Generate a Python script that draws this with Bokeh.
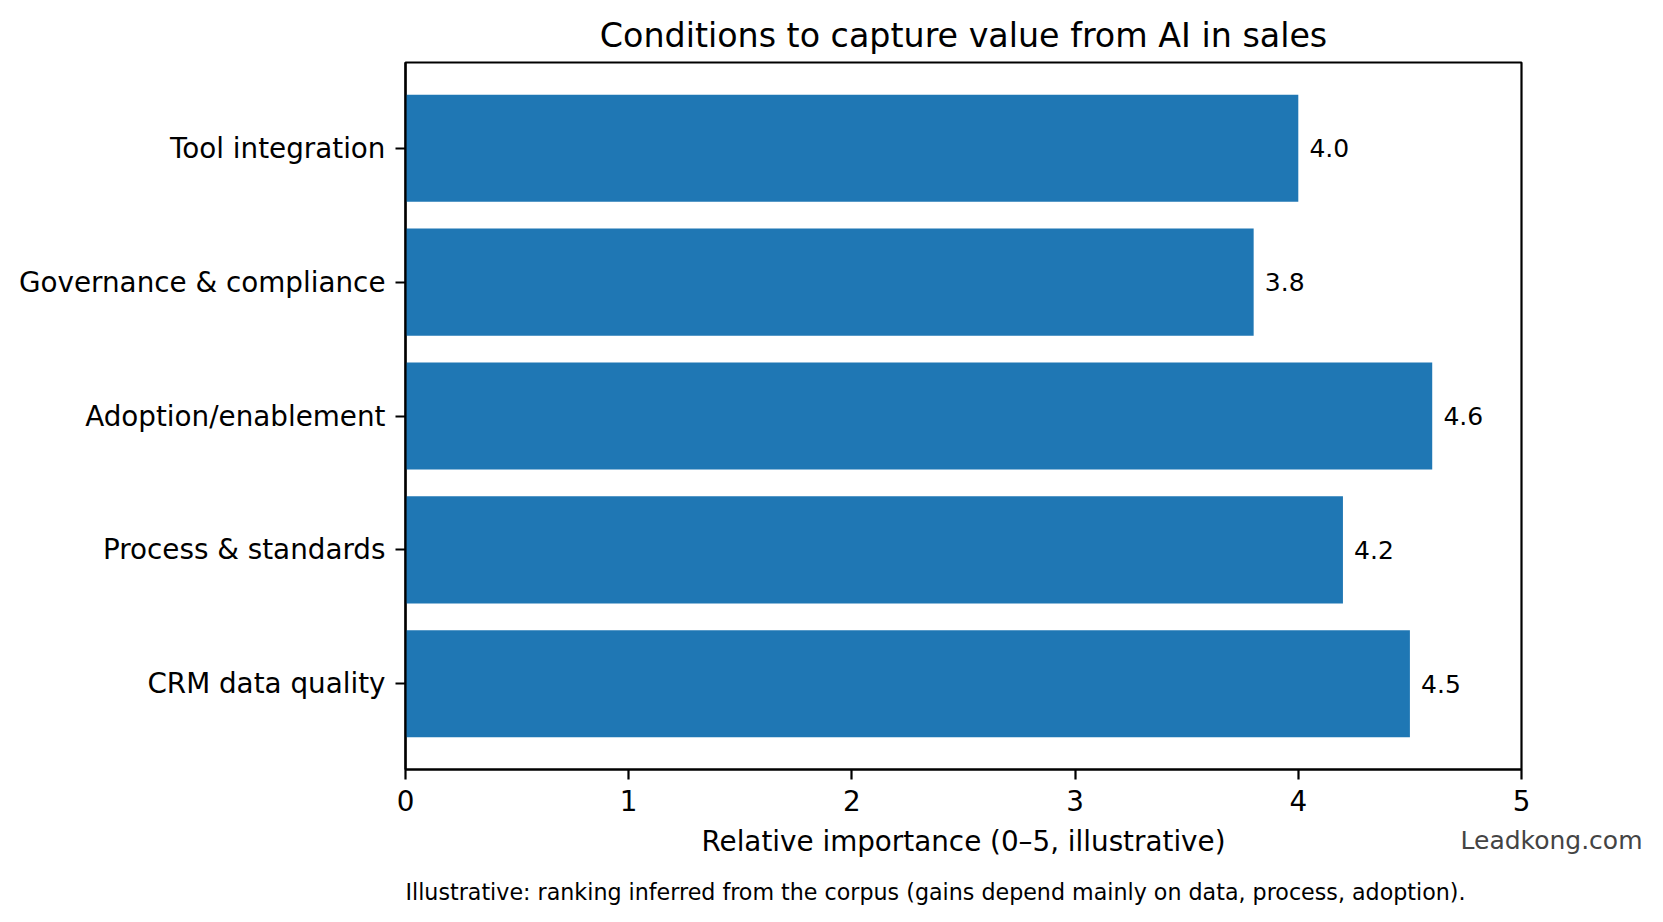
from bokeh.plotting import figure
from bokeh.models import FactorRange, Range1d, FixedTicker, Label, ColumnDataSource
from bokeh.embed import file_html
from bokeh.resources import INLINE
from bokeh.core.properties import value

# ---- data ----
categories = ["CRM data quality", "Process & standards", "Adoption/enablement",
              "Governance & compliance", "Tool integration"]
scores = [4.5, 4.2, 4.6, 3.8, 4.0]
x_ticks = [0, 1, 2, 3, 4, 5]
title_text = "Conditions to capture value from AI in sales"
x_label = "Relative importance (0\u20135, illustrative)"
footnote = "Illustrative: ranking inferred from the corpus (gains depend mainly on data, process, adoption)."
watermark = "Leadkong.com"

FONT = "DejaVu Sans"
BAR = "#1f77b4"

src = ColumnDataSource(dict(
    cat=categories,
    score=scores,
    lx=[s + 0.05 for s in scores],
    txt=["{:.1f}".format(s) for s in scores],
))

p = figure(
    y_range=FactorRange(factors=categories, range_padding=0.14, range_padding_units="absolute"),
    x_range=Range1d(0, 5),
    frame_width=1116, frame_height=707,
    min_border_left=405, min_border_right=126, min_border_top=62, min_border_bottom=137,
    output_backend="svg", toolbar_location=None, title=title_text,
)

p.title.align = "center"
p.title.text_font = FONT
p.title.text_font_size = "33.3px"
p.title.text_font_style = "normal"
p.title.text_color = "black"
p.title.standoff = 16

p.background_fill_color = "white"
p.border_fill_color = "white"
p.outline_line_color = "black"
p.outline_line_width = 2.2
p.outline_line_alpha = 1.0
p.xgrid.visible = False
p.ygrid.visible = False

for ax in (p.xaxis[0], p.yaxis[0]):
    ax.major_label_text_font = FONT
    ax.major_label_text_font_size = "27.8px"
    ax.major_label_text_color = "black"
    ax.axis_line_width = 2.2
    ax.axis_line_color = "black"
    ax.major_tick_line_width = 2.2
    ax.major_tick_line_color = "black"
    ax.major_tick_out = 10
    ax.major_tick_in = 0
    ax.minor_tick_line_color = None
    ax.major_label_standoff = 10

p.xaxis.ticker = FixedTicker(ticks=x_ticks)
p.xaxis.axis_label = x_label
p.xaxis.axis_label_text_font = FONT
p.xaxis.axis_label_text_font_size = "27.8px"
p.xaxis.axis_label_text_font_style = "normal"
p.xaxis.axis_label_text_color = "black"
p.xaxis.axis_label_standoff = 11

p.hbar(y="cat", left=0, right="score", height=0.8, source=src,
       fill_color=BAR, line_color=None)

p.text(x="lx", y="cat", text="txt", source=src,
       text_font=value(FONT), text_font_size="25px",
       text_align="left", text_baseline="middle", text_color="black")

p.add_layout(Label(x=1642, y=840, x_units="canvas", y_units="canvas", text=watermark,
                   text_align="right", text_baseline="middle",
                   text_font=FONT, text_font_size="25px", text_color="#444444"), "below")
p.add_layout(Label(x=405, y=891, x_units="canvas", y_units="canvas", text=footnote,
                   text_align="left", text_baseline="middle",
                   text_font=FONT, text_font_size="22.2px", text_color="black"), "below")

open("out.html", "w").write(file_html(p, INLINE, title="Conditions to capture value from AI in sales"))
